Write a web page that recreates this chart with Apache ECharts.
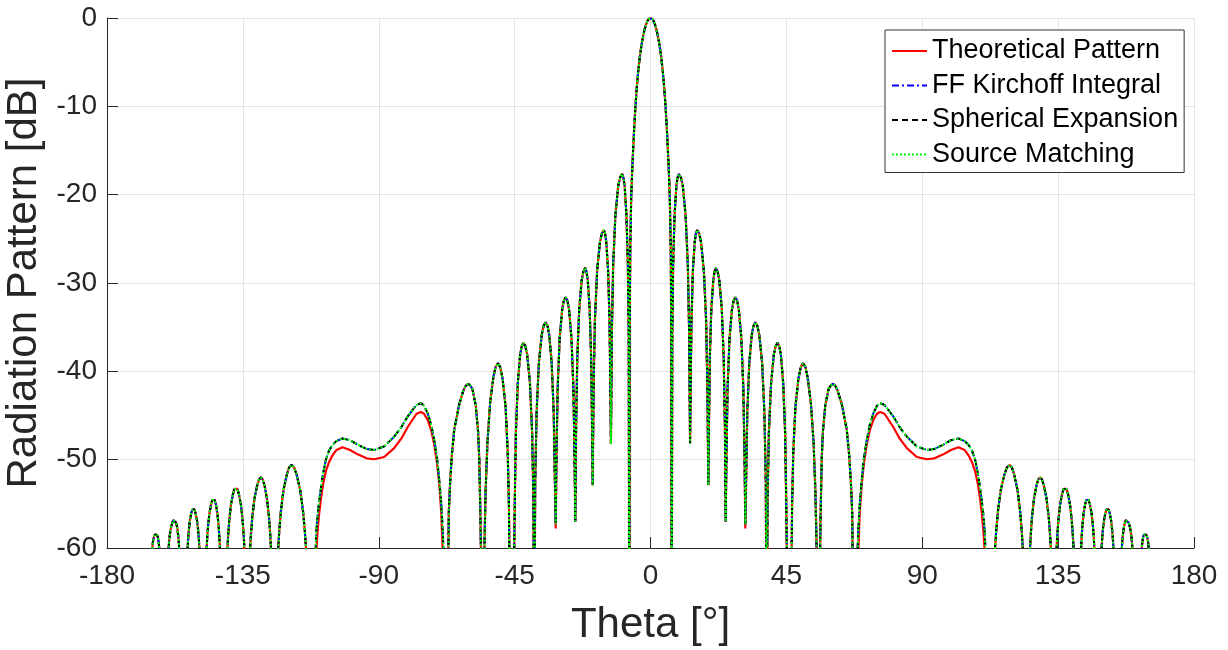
<!DOCTYPE html>
<html>
<head>
<meta charset="utf-8">
<script src="https://cdn.jsdelivr.net/npm/echarts@6/dist/echarts.min.js"></script>
<style>html,body{margin:0;padding:0;background:#fff;}#c{width:1228px;height:650px;}</style>
</head>
<body>
<div id="c"></div>
<script>
// Theta [deg] sample positions
const theta = [
  -165.5, -165, -164.9, -164.76, -164.52, -164.23, -164.02, -163.8, -163.6, -163.4, -163.14, -162.92, -162.79, -162.7,
  -161.15, -159.6, -159.45, -159.22, -158.84, -158.38, -158.04, -157.7, -157.41, -157.12, -156.74, -156.42, -156.23, -156.1,
  -154.7, -153.3, -153.15, -152.92, -152.54, -152.08, -151.74, -151.4, -151.04, -150.68, -150.2, -149.8, -149.56, -149.4,
  -148.2, -147, -146.82, -146.54, -146.08, -145.53, -145.11, -144.7, -144.32, -143.94, -143.44, -143.02, -142.77, -142.6,
  -141.35, -140.1, -139.88, -139.54, -138.98, -138.31, -137.8, -137.3, -136.8, -136.29, -135.62, -135.06, -134.72, -134.5,
  -133.55, -132.6, -132.31, -131.88, -131.16, -130.3, -129.65, -129, -128.41, -127.81, -127.02, -126.36, -125.96, -125.7,
  -124.5, -123.3, -122.95, -122.42, -121.54, -120.48, -119.69, -118.9, -118.04, -117.17, -116.02, -115.06, -114.48, -114.1,
  -112.6, -111.1, -110.7, -110.2, -109.7, -109.1, -108.4, -107.5, -106.5, -105.3, -104, -102, -99.5, -97, -94, -91.5, -88.2, -84.9, -82.5, -80.4, -77.5, -76, -75, -73.8, -72.6, -71.6, -70.7, -69.95, -69.3, -68.8, -68.4,
  -67.7, -67, -66.8, -66.4, -65.8, -65, -63.4, -62, -61.3, -60.45, -59.7, -59, -57.9, -57.1, -56.7, -56.35, -56.1,
  -55.6, -55.1, -54.9, -54.6, -54, -53.1, -52, -51.3, -50.5, -49.8, -49, -48, -47.3, -46.9, -46.7,
  -45.95, -45.2, -44.95, -44.58, -43.96, -43.18, -42.66, -42.1, -41.45, -40.83, -39.93, -39.2, -38.77,
  -38.48, -38.18, -37.72, -36.97, -36.02, -35.38, -34.7, -34.11, -33.55, -32.72, -32.06, -31.66,
  -31.4, -31.14, -30.74, -30.08, -29.25, -28.69, -28.1, -27.52, -26.98, -26.18, -25.54, -25.16,
  -24.9, -24.64, -24.25, -23.6, -22.79, -22.23, -21.65, -21.2, -20.78, -20.15, -19.65, -19.35,
  -19.15, -18.85, -18.41, -17.67, -16.75, -16.12, -15.45, -15.03, -14.63, -14.04, -13.57, -13.29,
  -13.1, -12.8, -12.36, -11.62, -10.7, -10.07, -9.4, -8.97, -8.57, -7.97, -7.5, -7.21,
  -7.02, -6.9, -6.7, -6.4, -6, -5.5, -5, -4.5, -4, -3.5, -3, -2.5, -2, -1.5, -1, -0.5,
  0,
  0.5, 1, 1.5, 2, 2.5, 3, 3.5, 4, 4.5, 5, 5.5, 6, 6.4, 6.7, 6.9, 7.02,
  7.21, 7.5, 7.97, 8.57, 8.97, 9.4, 10.07, 10.7, 11.62, 12.36, 12.8, 13.1,
  13.29, 13.57, 14.04, 14.63, 15.03, 15.45, 16.12, 16.75, 17.67, 18.41, 18.85, 19.15,
  19.35, 19.65, 20.15, 20.78, 21.2, 21.65, 22.23, 22.79, 23.6, 24.25, 24.64, 24.9,
  25.16, 25.54, 26.18, 26.98, 27.52, 28.1, 28.69, 29.25, 30.08, 30.74, 31.14, 31.4,
  31.66, 32.06, 32.72, 33.55, 34.11, 34.7, 35.38, 36.02, 36.97, 37.72, 38.18, 38.48,
  38.77, 39.2, 39.93, 40.83, 41.45, 42.1, 42.66, 43.18, 43.96, 44.58, 44.95, 45.2, 45.95,
  46.7, 46.9, 47.3, 48, 49, 49.8, 50.5, 51.3, 52, 53.1, 54, 54.6, 54.9, 55.1, 55.6,
  56.1, 56.35, 56.7, 57.1, 57.9, 59, 59.7, 60.45, 61.3, 62, 63.4, 65, 65.8, 66.4, 66.8, 67, 67.7,
  68.4, 68.8, 69.3, 69.95, 70.7, 71.6, 72.6, 73.8, 75, 76, 77.5, 80.4, 82.5, 84.9, 88.2, 91.5, 94, 97, 99.5, 102, 104, 105.3, 106.5, 107.5, 108.4, 109.1, 109.7, 110.2, 110.7, 111.1, 112.6,
  114.1, 114.48, 115.06, 116.02, 117.17, 118.04, 118.9, 119.69, 120.48, 121.54, 122.42, 122.95, 123.3, 124.5,
  125.7, 125.96, 126.36, 127.02, 127.81, 128.41, 129, 129.65, 130.3, 131.16, 131.88, 132.31, 132.6, 133.55,
  134.5, 134.72, 135.06, 135.62, 136.29, 136.8, 137.3, 137.8, 138.31, 138.98, 139.54, 139.88, 140.1, 141.35,
  142.6, 142.77, 143.02, 143.44, 143.94, 144.32, 144.7, 145.11, 145.53, 146.08, 146.54, 146.82, 147, 148.2,
  149.4, 149.56, 149.8, 150.2, 150.68, 151.04, 151.4, 151.74, 152.08, 152.54, 152.92, 153.15, 153.3, 154.7,
  156.1, 156.23, 156.42, 156.74, 157.12, 157.41, 157.7, 158.04, 158.38, 158.84, 159.22, 159.45, 159.6, 161.15,
  162.7, 162.79, 162.92, 163.14, 163.4, 163.6, 163.8, 164.02, 164.23, 164.52, 164.76, 164.9, 165, 165.5
];

// Theoretical pattern [dB]
const theoretical = [
  -80, -60, -59.66, -59.25, -58.81, -58.5, -58.35, -58.3, -58.35, -58.5, -58.81, -59.25, -59.66, -60,
  -80, -60, -59.35, -58.57, -57.72, -57.14, -56.85, -56.75, -56.85, -57.14, -57.72, -58.57, -59.35, -60,
  -80, -60, -59.1, -58.02, -56.85, -56.04, -55.64, -55.5, -55.64, -56.04, -56.85, -58.02, -59.1, -60,
  -80, -60, -58.88, -57.54, -56.08, -55.07, -54.57, -54.4, -54.57, -55.07, -56.08, -57.54, -58.88, -60,
  -80, -60, -58.62, -56.96, -55.17, -53.93, -53.31, -53.1, -53.31, -53.93, -55.17, -56.96, -58.62, -60,
  -80, -60, -58.4, -56.48, -54.4, -52.96, -52.24, -52, -52.24, -52.96, -54.4, -56.48, -58.4, -60,
  -80, -60, -58.12, -55.86, -53.42, -51.73, -50.88, -50.6, -50.88, -51.73, -53.42, -55.86, -58.12, -60,
  -80, -64, -60.5, -57.8, -56, -54.3, -52.7, -51.3, -50.3, -49.5, -48.9, -48.6, -48.9, -49.4, -49.85, -49.95, -49.7, -48.7, -47.6, -46.3, -44.8, -44.6, -44.8, -45.5, -46.7, -48.3, -50.4, -52.8, -56, -60.5, -66,
  -75, -62, -56, -52.8, -49.5, -46.6, -43.8, -42.2, -41.7, -41.4, -41.6, -42, -43.8, -46.8, -50, -56, -62,
  -75, -62, -58, -53.5, -48, -43.5, -40.6, -39.5, -39.1, -39.5, -40.8, -44, -49, -55, -62,
  -75, -62, -54.75, -46.95, -41.35, -38.13, -37.15, -36.75, -37.15, -38.13, -41.35, -46.95, -54.75,
  -75, -52.45, -44.65, -39.05, -35.83, -34.85, -34.45, -34.85, -35.83, -39.05, -44.65, -52.45,
  -57.8, -49.6, -41.8, -36.2, -33, -32, -31.6, -32, -33, -36.2, -41.8, -49.6,
  -57, -46.3, -38.5, -32.9, -29.7, -28.7, -28.3, -28.7, -29.7, -32.9, -38.5, -46.3,
  -52.9, -42, -34.2, -28.6, -25.4, -24.4, -24, -24.4, -25.4, -28.6, -34.2, -42,
  -48.2, -35.7, -27.9, -22.3, -19, -18.06, -17.66, -18.06, -19, -22.3, -27.9, -35.7,
  -75, -36, -26, -20.5, -16.7, -13.1, -10.1, -7.7, -5.8, -4.3, -3.1, -2.15, -1.35, -0.75, -0.33, -0.08,
  0,
  -0.08, -0.33, -0.75, -1.35, -2.15, -3.1, -4.3, -5.8, -7.7, -10.1, -13.1, -16.7, -20.5, -26, -36, -75,
  -35.7, -27.9, -22.3, -19, -18.06, -17.66, -18.06, -19, -22.3, -27.9, -35.7, -48.2,
  -42, -34.2, -28.6, -25.4, -24.4, -24, -24.4, -25.4, -28.6, -34.2, -42, -52.9,
  -46.3, -38.5, -32.9, -29.7, -28.7, -28.3, -28.7, -29.7, -32.9, -38.5, -46.3, -57,
  -49.6, -41.8, -36.2, -33, -32, -31.6, -32, -33, -36.2, -41.8, -49.6, -57.8,
  -52.45, -44.65, -39.05, -35.83, -34.85, -34.45, -34.85, -35.83, -39.05, -44.65, -52.45, -75,
  -54.75, -46.95, -41.35, -38.13, -37.15, -36.75, -37.15, -38.13, -41.35, -46.95, -54.75, -62, -75,
  -62, -55, -49, -44, -40.8, -39.5, -39.1, -39.5, -40.6, -43.5, -48, -53.5, -58, -62, -75,
  -62, -56, -50, -46.8, -43.8, -42, -41.6, -41.4, -41.7, -42.2, -43.8, -46.6, -49.5, -52.8, -56, -62, -75,
  -66, -60.5, -56, -52.8, -50.4, -48.3, -46.7, -45.5, -44.8, -44.6, -44.8, -46.3, -47.6, -48.7, -49.7, -49.95, -49.85, -49.4, -48.9, -48.6, -48.9, -49.5, -50.3, -51.3, -52.7, -54.3, -56, -57.8, -60.5, -64, -80,
  -60, -58.12, -55.86, -53.42, -51.73, -50.88, -50.6, -50.88, -51.73, -53.42, -55.86, -58.12, -60, -80,
  -60, -58.4, -56.48, -54.4, -52.96, -52.24, -52, -52.24, -52.96, -54.4, -56.48, -58.4, -60, -80,
  -60, -58.62, -56.96, -55.17, -53.93, -53.31, -53.1, -53.31, -53.93, -55.17, -56.96, -58.62, -60, -80,
  -60, -58.88, -57.54, -56.08, -55.07, -54.57, -54.4, -54.57, -55.07, -56.08, -57.54, -58.88, -60, -80,
  -60, -59.1, -58.02, -56.85, -56.04, -55.64, -55.5, -55.64, -56.04, -56.85, -58.02, -59.1, -60, -80,
  -60, -59.35, -58.57, -57.72, -57.14, -56.85, -56.75, -56.85, -57.14, -57.72, -58.57, -59.35, -60, -80,
  -60, -59.66, -59.25, -58.81, -58.5, -58.35, -58.3, -58.35, -58.5, -58.81, -59.25, -59.66, -60, -80
];

// Numerical results (Kirchhoff integral, spherical expansion, source matching overlap) [dB]
const numerical = [
  -80, -60, -59.66, -59.25, -58.81, -58.5, -58.35, -58.3, -58.35, -58.5, -58.81, -59.25, -59.66, -60,
  -80, -60, -59.35, -58.57, -57.72, -57.14, -56.85, -56.75, -56.85, -57.14, -57.72, -58.57, -59.35, -60,
  -80, -60, -59.1, -58.02, -56.85, -56.04, -55.64, -55.5, -55.64, -56.04, -56.85, -58.02, -59.1, -60,
  -80, -60, -58.88, -57.54, -56.08, -55.07, -54.57, -54.4, -54.57, -55.07, -56.08, -57.54, -58.88, -60,
  -80, -60, -58.62, -56.96, -55.17, -53.93, -53.31, -53.1, -53.31, -53.93, -55.17, -56.96, -58.62, -60,
  -80, -60, -58.4, -56.48, -54.4, -52.96, -52.24, -52, -52.24, -52.96, -54.4, -56.48, -58.4, -60,
  -80, -60, -58.12, -55.86, -53.42, -51.73, -50.88, -50.6, -50.88, -51.73, -53.42, -55.86, -58.12, -60,
  -80, -62, -58.2, -56.1, -54.6, -53.1, -51.5, -50, -49, -48.3, -47.9, -47.6, -47.8, -48.3, -48.8, -48.9, -48.5, -47.4, -46.3, -45.1, -43.8, -43.6, -43.9, -44.75, -46.1, -47.8, -49.8, -52.3, -55, -58, -62,
  -75, -62, -56, -52.8, -49.5, -46.6, -43.8, -42.2, -41.7, -41.4, -41.6, -42, -43.8, -46.8, -50, -56, -62,
  -75, -62, -58, -53.5, -48, -43.5, -40.6, -39.5, -39.1, -39.5, -40.8, -44, -49, -55, -62,
  -75, -62, -54.75, -46.95, -41.35, -38.13, -37.15, -36.75, -37.15, -38.13, -41.35, -46.95, -54.75,
  -75, -52.45, -44.65, -39.05, -35.83, -34.85, -34.45, -34.85, -35.83, -39.05, -44.65, -52.45,
  -57.3, -49.6, -41.8, -36.2, -33, -32, -31.6, -32, -33, -36.2, -41.8, -49.6,
  -57, -46.3, -38.5, -32.9, -29.7, -28.7, -28.3, -28.7, -29.7, -32.9, -38.5, -46.3,
  -52.9, -42, -34.2, -28.6, -25.4, -24.4, -24, -24.4, -25.4, -28.6, -34.2, -42,
  -48.2, -35.7, -27.9, -22.3, -19, -18.06, -17.66, -18.06, -19, -22.3, -27.9, -35.7,
  -75, -36, -26, -20.5, -16.7, -13.1, -10.1, -7.7, -5.8, -4.3, -3.1, -2.15, -1.35, -0.75, -0.33, -0.08,
  0,
  -0.08, -0.33, -0.75, -1.35, -2.15, -3.1, -4.3, -5.8, -7.7, -10.1, -13.1, -16.7, -20.5, -26, -36, -75,
  -35.7, -27.9, -22.3, -19, -18.06, -17.66, -18.06, -19, -22.3, -27.9, -35.7, -48.2,
  -42, -34.2, -28.6, -25.4, -24.4, -24, -24.4, -25.4, -28.6, -34.2, -42, -52.9,
  -46.3, -38.5, -32.9, -29.7, -28.7, -28.3, -28.7, -29.7, -32.9, -38.5, -46.3, -57,
  -49.6, -41.8, -36.2, -33, -32, -31.6, -32, -33, -36.2, -41.8, -49.6, -57.3,
  -52.45, -44.65, -39.05, -35.83, -34.85, -34.45, -34.85, -35.83, -39.05, -44.65, -52.45, -75,
  -54.75, -46.95, -41.35, -38.13, -37.15, -36.75, -37.15, -38.13, -41.35, -46.95, -54.75, -62, -75,
  -62, -55, -49, -44, -40.8, -39.5, -39.1, -39.5, -40.6, -43.5, -48, -53.5, -58, -62, -75,
  -62, -56, -50, -46.8, -43.8, -42, -41.6, -41.4, -41.7, -42.2, -43.8, -46.6, -49.5, -52.8, -56, -62, -75,
  -62, -58, -55, -52.3, -49.8, -47.8, -46.1, -44.75, -43.9, -43.6, -43.8, -45.1, -46.3, -47.4, -48.5, -48.9, -48.8, -48.3, -47.8, -47.6, -47.9, -48.3, -49, -50, -51.5, -53.1, -54.6, -56.1, -58.2, -62, -80,
  -60, -58.12, -55.86, -53.42, -51.73, -50.88, -50.6, -50.88, -51.73, -53.42, -55.86, -58.12, -60, -80,
  -60, -58.4, -56.48, -54.4, -52.96, -52.24, -52, -52.24, -52.96, -54.4, -56.48, -58.4, -60, -80,
  -60, -58.62, -56.96, -55.17, -53.93, -53.31, -53.1, -53.31, -53.93, -55.17, -56.96, -58.62, -60, -80,
  -60, -58.88, -57.54, -56.08, -55.07, -54.57, -54.4, -54.57, -55.07, -56.08, -57.54, -58.88, -60, -80,
  -60, -59.1, -58.02, -56.85, -56.04, -55.64, -55.5, -55.64, -56.04, -56.85, -58.02, -59.1, -60, -80,
  -60, -59.35, -58.57, -57.72, -57.14, -56.85, -56.75, -56.85, -57.14, -57.72, -58.57, -59.35, -60, -80,
  -60, -59.66, -59.25, -58.81, -58.5, -58.35, -58.3, -58.35, -58.5, -58.81, -59.25, -59.66, -60, -80
];

const ffKirchhoff = numerical;
const sphericalExpansion = numerical;
const sourceMatching = numerical;

const xTicks = [-180, -135, -90, -45, 0, 45, 90, 135, 180];
const yTicks = [-60, -50, -40, -30, -20, -10, 0];
const seriesNames = ['Theoretical Pattern', 'FF Kirchoff Integral', 'Spherical Expansion', 'Source Matching'];

const FONT = '"Liberation Sans", Arial, Helvetica, sans-serif';
const pairs = ys => theta.map((t, i) => [t, ys[i]]);

const chart = echarts.init(document.getElementById('c'), null, { renderer: 'canvas' });
const axisColor = '#262626';
const gridColor = '#e3e3e3';

chart.setOption({
  animation: false,
  backgroundColor: '#ffffff',
  grid: { left: 107, right: 34, top: 18, bottom: 102, containLabel: false, outerBoundsMode: 'none' },
  xAxis: {
    type: 'value', min: xTicks[0], max: xTicks[xTicks.length - 1], interval: 45,
    name: 'Theta [°]', nameLocation: 'middle', nameGap: 56,
    nameTextStyle: { fontSize: 42, color: axisColor, fontFamily: FONT },
    axisLine: { show: true, onZero: false, lineStyle: { color: axisColor, width: 1 } },
    axisTick: { show: true, inside: true, length: 11, lineStyle: { color: axisColor, width: 1 } },
    axisLabel: { fontSize: 28, color: axisColor, margin: 14, fontFamily: FONT, showMinLabel: true, showMaxLabel: true },
    splitLine: { show: true, lineStyle: { color: gridColor, width: 1 } }
  },
  yAxis: {
    type: 'value', min: yTicks[0], max: yTicks[yTicks.length - 1], interval: 10,
    name: 'Radiation Pattern [dB]', nameLocation: 'middle', nameGap: 56,
    nameTextStyle: { fontSize: 42, color: axisColor, fontFamily: FONT },
    axisLine: { show: true, onZero: false, lineStyle: { color: axisColor, width: 1 } },
    axisTick: { show: true, inside: true, length: 11, lineStyle: { color: axisColor, width: 1 } },
    axisLabel: { fontSize: 28, color: axisColor, margin: 10, fontFamily: FONT, showMinLabel: true, showMaxLabel: true },
    splitLine: { show: true, lineStyle: { color: gridColor, width: 1 } }
  },
  legend: {
    orient: 'vertical', left: 885, top: 30,
    backgroundColor: '#ffffff', borderColor: '#333333', borderWidth: 1, borderRadius: 0,
    padding: [6, 6, 3, 6], itemGap: 4.5, itemWidth: 35, itemHeight: 14,
    itemStyle: { opacity: 0 },
    textStyle: { fontSize: 27, color: '#000000', fontFamily: FONT, lineHeight: 30 },
    data: seriesNames
  },
  series: [
    { name: seriesNames[0], type: 'line', data: pairs(theoretical), symbol: 'none', showSymbol: false, clip: true, z: 2,
      lineStyle: { color: '#ff0000', width: 2.2, type: 'solid' }, itemStyle: { color: '#ff0000' } },
    { name: seriesNames[1], type: 'line', data: pairs(ffKirchhoff), symbol: 'none', showSymbol: false, clip: true, z: 3,
      lineStyle: { color: '#0000ff', width: 2, type: [7, 3, 2, 3] }, itemStyle: { color: '#0000ff' } },
    { name: seriesNames[2], type: 'line', data: pairs(sphericalExpansion), symbol: 'none', showSymbol: false, clip: true, z: 4,
      lineStyle: { color: '#000000', width: 2, type: [6, 4] }, itemStyle: { color: '#000000' } },
    { name: seriesNames[3], type: 'line', data: pairs(sourceMatching), symbol: 'none', showSymbol: false, clip: true, z: 5,
      lineStyle: { color: '#00ff00', width: 2, type: [2, 2] }, itemStyle: { color: '#00ff00' } }
  ]
});
if (theta.length !== theoretical.length || theta.length !== numerical.length) {
  console.error('length mismatch', theta.length, theoretical.length, numerical.length);
}
</script>
</body>
</html>
